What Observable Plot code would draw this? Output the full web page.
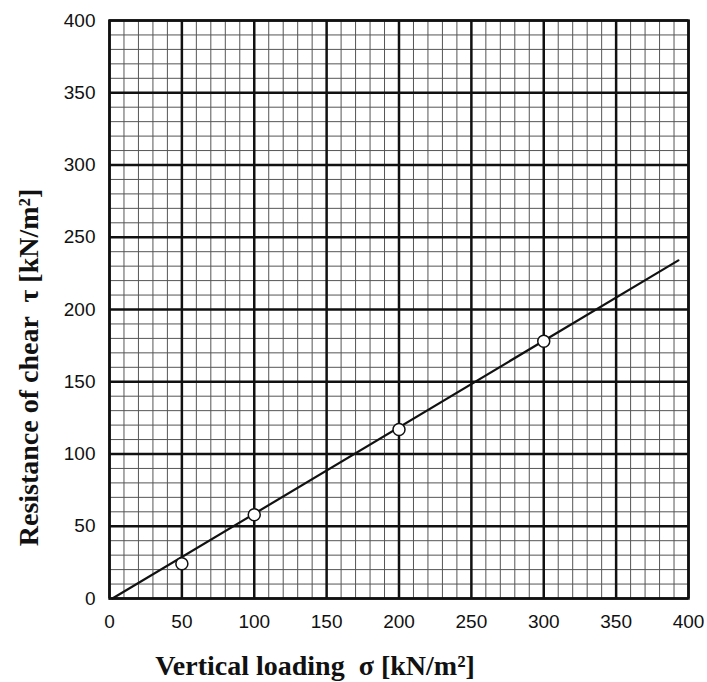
<!DOCTYPE html>
<html>
<head>
<meta charset="utf-8">
<script src="https://cdn.jsdelivr.net/npm/d3@7"></script>
<script src="https://cdn.jsdelivr.net/npm/@observablehq/plot@0.6"></script>
<style>
  html, body { margin: 0; padding: 0; background: #fff; }
</style>
</head>
<body>
<div id="chart"></div>
<script>
// Measured points
const sigma = [50, 100, 200, 300];
const tau = [24, 58, 117, 178];

// Fitted straight line (end points)
const fitSigma = [2, 393];
const fitTau = [0, 234];

// Tick labels / grid
const majorTicks = [0, 50, 100, 150, 200, 250, 300, 350, 400];
const minorTicks = [10, 20, 30, 40, 60, 70, 80, 90, 110, 120, 130, 140, 160, 170, 180, 190,
  210, 220, 230, 240, 260, 270, 280, 290, 310, 320, 330, 340, 360, 370, 380, 390];

const xTitle = "Vertical loading  σ [kN/m²]";
const yTitle = "Resistance of chear  τ [kN/m²]";

const points = sigma.map((s, i) => ({s, t: tau[i]}));
const fit = fitSigma.map((s, i) => ({s, t: fitTau[i]}));

const chart = Plot.plot({
  width: 707,
  height: 682,
  marginLeft: 109,
  marginRight: 19,
  marginTop: 20,
  marginBottom: 84,
  x: {domain: [0, 400]},
  y: {domain: [0, 400]},
  style: {background: "#fff", fontFamily: "'Liberation Sans', Arial, sans-serif", fontSize: "19px", color: "#111"},
  marks: [
    Plot.ruleX(minorTicks, {stroke: "#555", strokeWidth: 1}),
    Plot.ruleY(minorTicks, {stroke: "#555", strokeWidth: 1}),
    Plot.ruleX(majorTicks, {stroke: "#111", strokeWidth: 2.5}),
    Plot.ruleY(majorTicks, {stroke: "#111", strokeWidth: 2.5}),
    Plot.frame({stroke: "#111", strokeWidth: 2.5}),
    Plot.line(fit, {x: "s", y: "t", stroke: "#111", strokeWidth: 2.2}),
    Plot.dot(points, {x: "s", y: "t", r: 6, fill: "#fff", stroke: "#111", strokeWidth: 1.5}),
    Plot.axisX(majorTicks, {tickSize: 0, tickPadding: 16, label: null, fontSize: 19}),
    Plot.axisY(majorTicks, {tickSize: 0, tickPadding: 14, label: null, fontSize: 19}),
    Plot.text([xTitle], {
      frameAnchor: "bottom", textAnchor: "middle", dx: -84, dy: 76,
      fontFamily: "'Liberation Serif', 'Times New Roman', serif",
      fontWeight: "bold", fontSize: 28, fill: "#111"
    }),
    Plot.text([yTitle], {
      frameAnchor: "left", textAnchor: "middle", dx: -80, dy: 58, rotate: -90,
      fontFamily: "'Liberation Serif', 'Times New Roman', serif",
      fontWeight: "bold", fontSize: 28, fill: "#111"
    })
  ]
});
document.getElementById("chart").appendChild(chart);
</script>
</body>
</html>
